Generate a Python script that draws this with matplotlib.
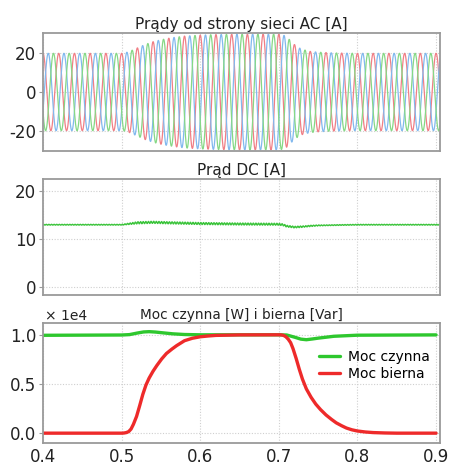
import numpy as np
import matplotlib
matplotlib.use("Agg")
import matplotlib.pyplot as plt

# ---- data ----
# AC current amplitude envelope [A]
env_t = [0.40, 0.50, 0.505, 0.51, 0.52, 0.53, 0.54, 0.55, 0.56, 0.57, 0.58, 0.60, 0.62, 0.65, 0.70, 0.705, 0.71, 0.715, 0.72, 0.725, 0.73, 0.74, 0.75, 0.77, 0.80, 0.90]
env_a = [20.0, 20.0, 20.3, 21.0, 22.8, 24.6, 26.0, 27.0, 27.8, 28.4, 28.9, 29.4, 29.7, 29.9, 29.9, 29.6, 28.5, 26.5, 24.5, 23.0, 22.0, 21.0, 20.6, 20.2, 20.0, 20.0]
ac_freq = 50.0  # Hz
phase_shift_deg = [0, 120, 240]
phase_colors = ["#f07f86", "#82b9ee", "#86d886"]

# DC current [A]
dc_t = [0.40, 0.50, 0.51, 0.52, 0.54, 0.56, 0.60, 0.65, 0.70, 0.705, 0.71, 0.72, 0.73, 0.74, 0.75, 0.78, 0.80, 0.90]
dc_i = [13.0, 13.0, 13.2, 13.4, 13.5, 13.4, 13.25, 13.15, 13.1, 13.0, 12.7, 12.5, 12.6, 12.75, 12.85, 12.95, 13.0, 13.0]
dc_ripple_t = [0.40, 0.50, 0.52, 0.70, 0.73, 0.76, 0.90]
dc_ripple_a = [0.08, 0.08, 0.22, 0.2, 0.15, 0.08, 0.08]

# Active (P, W) and reactive (Q, Var) power
p_t = [0.40, 0.50, 0.51, 0.52, 0.528, 0.535, 0.543, 0.55, 0.565, 0.58, 0.60, 0.70, 0.71, 0.72, 0.728, 0.735, 0.743, 0.75, 0.77, 0.80, 0.90]
p_w = [9950, 9980, 10020, 10180, 10290, 10320, 10280, 10220, 10100, 10030, 10000, 10000, 9980, 9760, 9560, 9500, 9580, 9660, 9850, 9960, 9990]
q_t = [0.40, 0.50, 0.503, 0.506, 0.509, 0.512, 0.515, 0.519, 0.523, 0.527, 0.531, 0.535, 0.540, 0.545, 0.551, 0.557, 0.564, 0.57, 0.575, 0.58, 0.59, 0.60, 0.61, 0.62, 0.65, 0.70, 0.703, 0.706, 0.709, 0.712, 0.715, 0.718, 0.722, 0.726, 0.730, 0.735, 0.741, 0.747, 0.753, 0.76, 0.767, 0.773, 0.78, 0.786, 0.793, 0.80, 0.81, 0.82, 0.835, 0.85, 0.90]
q_var = [0, 0, 15, 60, 160, 420, 900, 1700, 2800, 3950, 4900, 5600, 6300, 6900, 7550, 8100, 8550, 8900, 9150, 9400, 9650, 9800, 9880, 9940, 9990, 10000, 9990, 9940, 9800, 9550, 9200, 8600, 7600, 6500, 5500, 4500, 3650, 2950, 2400, 1850, 1400, 1050, 750, 520, 340, 220, 120, 60, 20, 0, 0]

xticks = [0.4, 0.5, 0.6, 0.7, 0.8, 0.9]
xtick_labels = ["0.4", "0.5", "0.6", "0.7", "0.8", "0.9"]

titles = ["Prądy od strony sieci AC [A]", "Prąd DC [A]", "Moc czynna [W] i bierna [Var]"]

# ---- figure ----
plt.rcParams["font.family"] = ["DejaVu Sans"]
plt.rcParams["axes.unicode_minus"] = False
fig = plt.figure(figsize=(4.49, 4.66), dpi=100)
L, R = 43 / 449, 440 / 449
def box(top_px, bot_px):
    return [L, 1 - bot_px / 466, R - L, (bot_px - top_px) / 466]

ax1 = fig.add_axes(box(33, 151))
ax2 = fig.add_axes(box(179, 295))
ax3 = fig.add_axes(box(323, 443))

frame_col = "#9a9a9a"
grid_col = "#cfcfcf"
for ax in (ax1, ax2, ax3):
    for s in ax.spines.values():
        s.set_color(frame_col)
        s.set_linewidth(1.3)
    ax.set_xlim(0.4, 0.905)
    ax.set_xticks(xticks)
    ax.grid(True, color=grid_col, linestyle=(0, (1, 1.5)), linewidth=0.8)
    ax.set_axisbelow(True)
    ax.tick_params(axis="y", labelsize=12, length=3, color=frame_col, pad=2, labelcolor="#222222")
    ax.tick_params(axis="x", labelsize=12, length=0, color=frame_col, labelcolor="#222222")

ax1.set_xticklabels([])
ax2.set_xticklabels([])
ax3.set_xticklabels(xtick_labels)

# AC currents
t = np.linspace(0.4, 0.905, 6000)
amp = np.interp(t, env_t, env_a)
for ph, col in zip(phase_shift_deg, phase_colors):
    ax1.plot(t, amp * np.cos(2 * np.pi * ac_freq * (t - 0.4) - np.deg2rad(ph)), color=col, lw=0.9)
ax1.set_ylim(-30.5, 30.5)
ax1.set_yticks([-20, 0, 20])
ax1.set_title(titles[0], fontsize=11, pad=3, color="#222222")

# DC current
td = np.linspace(0.4, 0.905, 4000)
dc = np.interp(td, dc_t, dc_i) + np.interp(td, dc_ripple_t, dc_ripple_a) * np.sin(2 * np.pi * 300 * td)
ax2.plot(td, dc, color="#3cc43c", lw=1.0)
ax2.set_ylim(-1.6, 22.5)
ax2.set_yticks([0, 10, 20])
ax2.set_title(titles[1], fontsize=11, pad=3, color="#222222")

# Powers
ax3.plot(p_t, np.array(p_w) / 1e4, color="#2ec72e", lw=2.4, label="Moc czynna", solid_capstyle="round")
ax3.plot(q_t, np.array(q_var) / 1e4, color="#ee2a2a", lw=2.4, label="Moc bierna", solid_capstyle="round")
ax3.set_ylim(-0.1, 1.12)
ax3.set_yticks([0.0, 0.5, 1.0])
ax3.set_yticklabels(["0.0", "0.5", "1.0"])
ax3.set_title(titles[2], fontsize=9.8, pad=3, color="#222222")
ax3.text(0.005, 1.0, "× 1e4", transform=ax3.transAxes, fontsize=10, ha="left", va="bottom", color="#222222")
ax3.legend(loc="upper right", bbox_to_anchor=(1.0, 0.86), frameon=False, fontsize=10,
           handlelength=1.5, handletextpad=0.6, labelspacing=0.25, borderaxespad=0.3)

fig.savefig("out.png", dpi=100)
